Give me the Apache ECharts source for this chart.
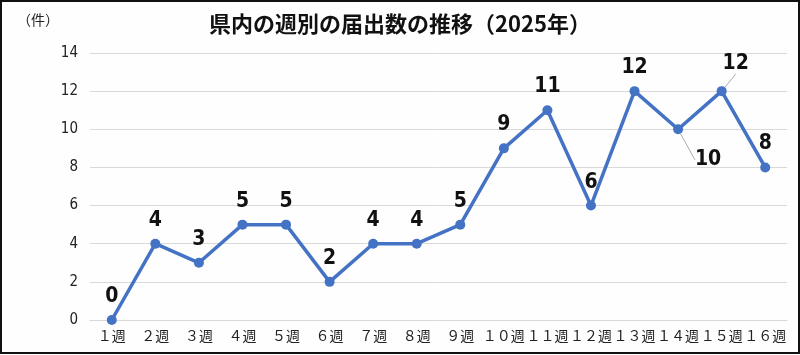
<!DOCTYPE html>
<html><head><meta charset="utf-8">
<script src="https://cdn.jsdelivr.net/npm/echarts@6/dist/echarts.min.js"></script>
<style>
html,body{margin:0;padding:0;background:#fff;}
#wrap{width:800px;height:354px;box-sizing:border-box;border:2px solid #111;background:#fefefe;}
#c{width:796px;height:350px;}
</style></head><body>
<div id="wrap"><div id="c"></div></div>
<script>
const titleText = '県内の週別の届出数の推移（2025年）';
const unitLabel = '（件）';
const categories = ['１週','２週','３週','４週','５週','６週','７週','８週','９週','１０週','１１週','１２週','１３週','１４週','１５週','１６週'];
const counts = [0,4,3,5,5,2,4,4,5,9,11,6,12,10,12,8];
const yTicks = [0,2,4,6,8,10,12,14];

const chart = echarts.init(document.getElementById('c'), null, {renderer:'canvas'});
const numFont = '"DejaVu Sans Condensed","DejaVu Sans",sans-serif';
const data = counts.map((v,i)=>{
  const d = {value:v};
  if(i===13 || i===14){ d.labelLine = {show:true, lineStyle:{color:'#aaa', width:1}}; }
  return d;
});
chart.setOption({
  animation:false,
  title:[
    {text:titleText, left:'center', top:6, textStyle:{fontFamily:'"Noto Sans CJK JP",sans-serif', fontSize:22, fontWeight:'bold', color:'#111'}},
    {text:unitLabel, left:10, top:6, textStyle:{fontFamily:'"Noto Sans CJK JP",sans-serif', fontSize:14, fontWeight:'normal', color:'#222'}}
  ],
  grid:{left:88, right:11, top:51, bottom:32},
  xAxis:{type:'category', data:categories, boundaryGap:true,
    axisLine:{show:true, lineStyle:{color:'#d9d9d9'}}, axisTick:{show:false},
    axisLabel:{color:'#222', fontSize:14, fontFamily:'"Noto Sans CJK JP",sans-serif', margin:9, interval:0}},
  yAxis:{type:'value', min:yTicks[0], max:yTicks[yTicks.length-1], interval:2,
    axisLine:{show:false}, axisTick:{show:false},
    splitLine:{lineStyle:{color:'#d9d9d9', width:1}},
    axisLabel:{color:'#222', fontSize:15, fontStyle:'condensed', fontFamily:numFont, margin:12}},
  series:[{type:'line', data:data, symbol:'circle', symbolSize:10,
    lineStyle:{color:'#4472C4', width:3.5}, itemStyle:{color:'#4472C4'},
    label:{show:true, position:'top', distance:8, color:'#111', fontSize:21, fontStyle:'condensed', fontWeight:'bold', fontFamily:numFont},
    labelLine:{show:false},
    labelLayout:function(p){
      if(p.dataIndex===13) return {dx:30, dy:54};
      if(p.dataIndex===14) return {dx:14, dy:-4};
      return {};
    }
  }]
});
</script></body></html>
